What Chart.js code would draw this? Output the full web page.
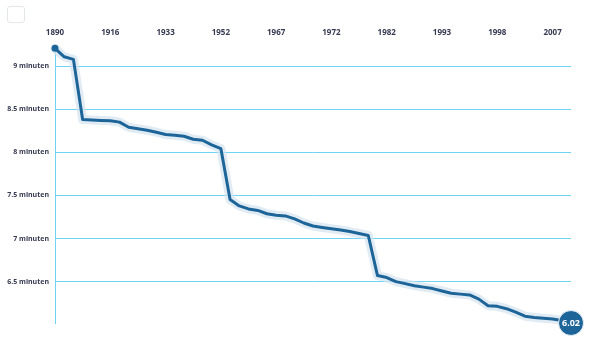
<!DOCTYPE html>
<html>
<head>
<meta charset="utf-8">
<script src="https://cdn.jsdelivr.net/npm/chart.js@4"></script>
<style>
    body { margin: 0; background: #fff; }
    #wrap { position: relative; width: 600px; height: 337px; }
    #menuBtn {
        position: absolute; left: 7px; top: 6px;
        width: 16px; height: 15px;
        border: 1px solid #e4e6ea; border-radius: 3px; background: #fff;
    }
</style>
</head>
<body>
<div id="wrap">
    <canvas id="chart" width="600" height="337"></canvas>
    <div id="menuBtn"></div>
</div>
<script>
    // Record times in minutes, one entry per record
    const times = [
        9.206, 9.108, 9.078, 8.38, 8.374, 8.37, 8.366, 8.35, 8.29, 8.273,
        8.256, 8.233, 8.206, 8.198, 8.186, 8.151, 8.14, 8.087, 8.043, 7.453,
        7.378, 7.343, 7.326, 7.287, 7.27, 7.262, 7.227, 7.18, 7.145, 7.128,
        7.113, 7.099, 7.081, 7.058, 7.035, 6.57, 6.547, 6.5, 6.477, 6.453,
        6.436, 6.419, 6.392, 6.366, 6.355, 6.345, 6.297, 6.221, 6.213, 6.186,
        6.145, 6.099, 6.085, 6.076, 6.067, 6.05, 6.02
    ];

    // Years printed along the top axis (every sixth record)
    const tickYears = ['1890', '1916', '1933', '1952', '1967', '1972', '1982', '1993', '1998', '2007'];
    const tickEvery = 6;

    // Minute gridlines
    const minuteTicks = [6.5, 7, 7.5, 8, 8.5, 9];

    const labels = times.map((t, i) => i % tickEvery === 0 ? (tickYears[i / tickEvery] || '') : '');

    const lineColor = '#1d6598';
    const gridColor = '#6fd4f4';
    const textColor = '#363a52';
    const fontFamily = '"Open Sans", sans-serif';

    // Bubble with the latest time on the last point
    const lastValueBubble = {
        id: 'lastValueBubble',
        afterDatasetsDraw(chart) {
            const meta = chart.getDatasetMeta(0);
            const pt = meta.data[meta.data.length - 1];
            const ctx = chart.ctx;
            ctx.save();
            ctx.beginPath();
            ctx.arc(pt.x, pt.y, 12.5, 0, Math.PI * 2);
            ctx.fillStyle = lineColor;
            ctx.fill();
            ctx.lineWidth = 1;
            ctx.strokeStyle = '#e8eff6';
            ctx.stroke();
            ctx.fillStyle = '#fff';
            ctx.font = 'bold 9px ' + fontFamily;
            ctx.textAlign = 'center';
            ctx.textBaseline = 'middle';
            ctx.fillText(times[times.length - 1].toFixed(2), pt.x, pt.y + 0.5);
            ctx.restore();
        }
    };

    new Chart(document.getElementById('chart'), {
        type: 'line',
        data: {
            labels: labels,
            datasets: [{
                data: times,
                borderColor: lineColor,
                borderWidth: 3,
                borderJoinStyle: 'round',
                borderCapStyle: 'round',
                pointRadius: ctx => ctx.dataIndex === 0 ? 3.5 : 0,
                pointBackgroundColor: lineColor,
                pointBorderWidth: 0,
                tension: 0,
                clip: false
            }, {
                // soft halo under the line
                data: times,
                borderColor: 'rgba(212, 226, 240, 0.7)',
                borderWidth: 9,
                borderJoinStyle: 'round',
                borderCapStyle: 'round',
                pointRadius: 0,
                tension: 0,
                clip: false
            }]
        },
        options: {
            responsive: false,
            animation: false,
            layout: { padding: { top: 0, right: 29, bottom: 14, left: 0 } },
            plugins: {
                legend: { display: false },
                tooltip: { enabled: false }
            },
            scales: {
                x: {
                    position: 'top',
                    grid: { display: false, drawTicks: false },
                    border: { display: false },
                    ticks: {
                        autoSkip: false,
                        maxRotation: 0,
                        padding: 10,
                        color: textColor,
                        font: { family: fontFamily, size: 8, weight: 'bold' }
                    },
                    afterFit: s => { s.height = 48; }
                },
                y: {
                    min: 6.02,
                    max: 9.21,
                    afterBuildTicks: s => { s.ticks = minuteTicks.map(v => ({ value: v })); },
                    grid: { color: gridColor, lineWidth: 1, drawTicks: false },
                    border: { color: gridColor, width: 1 },
                    ticks: {
                        padding: 6,
                        color: textColor,
                        font: { family: fontFamily, size: 7, weight: 'bold' },
                        callback: v => v + ' minuten'
                    },
                    afterFit: s => { s.width = 55; }
                }
            }
        },
        plugins: [lastValueBubble]
    });
</script>
</body>
</html>
